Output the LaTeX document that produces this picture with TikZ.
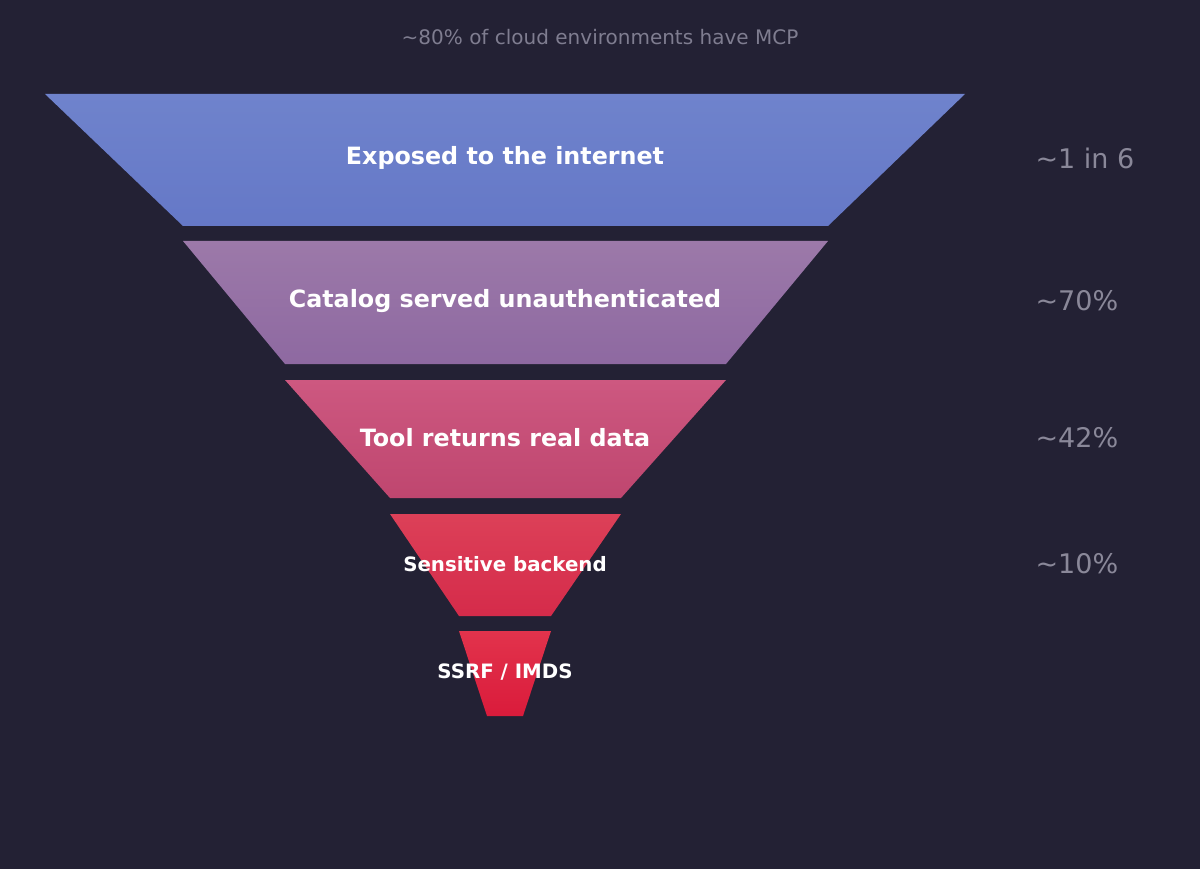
\documentclass[tikz,border=0pt]{standalone}
\usepackage{fontspec}
\setmainfont{DejaVu Sans}
\definecolor{bg}{HTML}{232134}
\definecolor{sidegray}{HTML}{8A8899}
\definecolor{titlegray}{HTML}{7F7D90}
\definecolor{aT}{HTML}{6F83CC}\definecolor{aB}{HTML}{6578C7}
\definecolor{bT}{HTML}{9C79A9}\definecolor{bB}{HTML}{8E69A1}
\definecolor{cT}{HTML}{CD5880}\definecolor{cB}{HTML}{BF466F}
\definecolor{dT}{HTML}{DC4058}\definecolor{dB}{HTML}{D52B4A}
\definecolor{eT}{HTML}{E2334C}\definecolor{eB}{HTML}{DA1B3B}
\tikzset{
  stagelabel/.style={text=white,font=\bfseries\fontsize{23.8}{28}\selectfont,anchor=center},
  smalllabel/.style={text=white,font=\bfseries\fontsize{19.8}{24}\selectfont,anchor=center},
  sidelabel/.style={text=sidegray,font=\fontsize{27}{32}\selectfont,anchor=west},
  titlelabel/.style={text=titlegray,font=\fontsize{20}{24}\selectfont,anchor=center}
}
\begin{document}
\begin{tikzpicture}[x=1pt,y=-1pt]
\fill[bg] (0,0) rectangle (1200,869);
\useasboundingbox (0,0) rectangle (1200,869);
\node[titlelabel] (title) at (600,37) {\textasciitilde80\% of cloud environments have MCP};
% stage 1
\shade[top color=aT,bottom color=aB] (45,94) -- (965,94) -- (828,226) -- (183,226) -- cycle;
\node[stagelabel] (s1) at (505,158) {Exposed to the internet};
% stage 2
\shade[top color=bT,bottom color=bB] (183,241) -- (828,241) -- (726,364) -- (285,364) -- cycle;
\node[stagelabel] (s2) at (505,301) {Catalog served unauthenticated};
% stage 3
\shade[top color=cT,bottom color=cB] (285,380) -- (726,380) -- (621,498) -- (390,498) -- cycle;
\node[stagelabel] (s3) at (505,438) {Tool returns real data};
% stage 4
\shade[top color=dT,bottom color=dB] (390,514) -- (621,514) -- (551,616) -- (459,616) -- cycle;
\node[smalllabel] (s4) at (505,564) {Sensitive backend};
% stage 5
\shade[top color=eT,bottom color=eB] (459,631) -- (551,631) -- (523,716) -- (487,716) -- cycle;
\node[smalllabel] (s5) at (505,672) {SSRF / IMDS};
% side labels
\node[sidelabel] (r1) at (1032,158) {\textasciitilde1 in 6};
\node[sidelabel] (r2) at (1032,301) {\textasciitilde70\%};
\node[sidelabel] (r3) at (1032,438) {\textasciitilde42\%};
\node[sidelabel] (r4) at (1032,564) {\textasciitilde10\%};
\end{tikzpicture}
\end{document}
